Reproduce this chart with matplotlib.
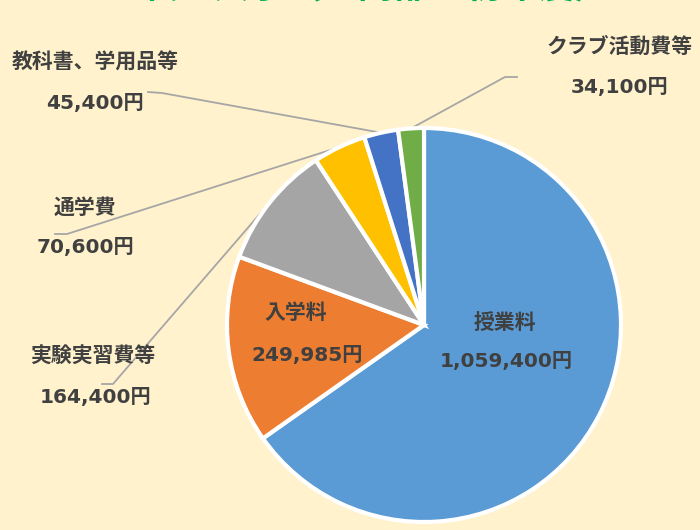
import numpy as np
import matplotlib
matplotlib.use("Agg")
import matplotlib.pyplot as plt

plt.rcParams['font.family'] = ['Noto Sans CJK JP', 'DejaVu Sans']

# data
items = ["授業料", "入学料", "実験実習費等", "通学費", "教科書、学用品等", "クラブ活動費等"]
amounts = [1059400, 249985, 164400, 70600, 45400, 34100]
colors = ["#5B9BD5", "#ED7D31", "#A5A5A5", "#FFC000", "#4472C4", "#70AD47"]
title = "私立大学（昼間部・初年度）"

W, H = 700, 530
bg = "#FFF2CC"
txt_col = "#404040"
line_col = "#A6A6A6"
num_font = ['DejaVu Sans', 'Noto Sans CJK JP']

fig = plt.figure(figsize=(W / 100, H / 100), dpi=100, facecolor=bg)
ax = fig.add_axes([0, 0, 1, 1])
ax.set_facecolor(bg)

cx, cy, r = 424, H - 325, 197
wedges, _ = ax.pie(amounts, colors=colors, startangle=90, counterclock=False,
                   radius=r, center=(cx, cy),
                   wedgeprops=dict(edgecolor="white", linewidth=3))
ax.set_xlim(0, W)
ax.set_ylim(0, H)
ax.set_aspect("equal")
ax.axis("off")


def fmt(v):
    return "{:,}円".format(v)


def put_label(i, npos, vpos):
    ax.text(npos[0], H - npos[1], items[i], ha="center", va="center",
            fontsize=15, fontweight="bold", color=txt_col)
    ax.text(vpos[0], H - vpos[1], fmt(amounts[i]), ha="center", va="center",
            fontsize=14.5, fontweight="bold", color=txt_col, family=num_font)


# labels inside the pie (image pixel coords, y from top)
put_label(0, (505, 322), (506, 362))
put_label(1, (296, 312), (307, 355))

# outside labels: name pos, value pos, leader start, elbow
outside = {
    2: ((93, 355), (95, 398), (102, 384), (113, 384)),
    3: ((85, 207), (85, 247), (55, 234), (67, 234)),
    4: ((95, 62), (95, 104), (148, 92), (162, 93)),
    5: ((620, 46), (620, 87), (517, 77), (505, 77)),
}
for i, (npos, vpos, p0, p1) in outside.items():
    put_label(i, npos, vpos)
    w = wedges[i]
    ang = np.radians((w.theta1 + w.theta2) / 2)
    ex, ey = cx + r * np.cos(ang), cy + r * np.sin(ang)
    ax.plot([p0[0], p1[0], ex], [H - p0[1], H - p1[1], ey],
            color=line_col, lw=1.3, zorder=0.5)

# title, mostly cut off at the top
ax.text(376, H + 3, title, ha="center", va="baseline", fontsize=26,
        fontweight="bold", color="#00B050", clip_on=False)

fig.savefig("out.png", dpi=100, facecolor=bg)
